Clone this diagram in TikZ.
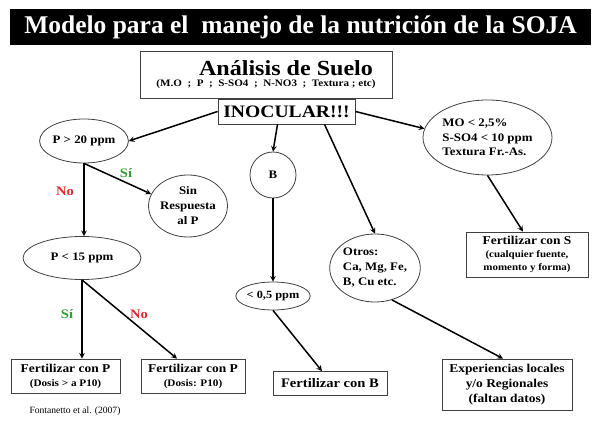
\documentclass[tikz,border=0pt]{standalone}
\usepackage{fontspec}
\setmainfont{Liberation Serif}
\newfontfamily\antiqua{Liberation Serif}[FakeStretch=1.12]
\usetikzlibrary{shapes.geometric}
\definecolor{noRed}{HTML}{E3262B}
\definecolor{siGreen}{HTML}{2F9A36}
\newcommand{\fs}[2]{\fontsize{#1}{#2}\selectfont}

\begin{document}
\begin{tikzpicture}[x=1pt,y=-1pt,>=stealth,
  caja/.style={draw=black!75,line width=0.8pt,fill=white,inner sep=0pt,align=center},
  elip/.style={ellipse,draw=black!75,line width=0.8pt,inner sep=0pt,align=center},
  flecha/.style={->,line width=1.5pt},
  rotulo/.style={font=\antiqua\bfseries\fs{13}{15}}]
\useasboundingbox (0,0) rectangle (600,430);
% titulo
\fill[black] (10,9) rectangle (591,45);
\node[text=white,font=\bfseries\fs{25.5}{28}] (titulo) at (300.5,27.5) {Modelo para el\ \ manejo de la nutrición de la SOJA};
% analisis e inoculacion
\node[caja,minimum width=252pt,minimum height=47pt,font=\antiqua\bfseries] (analisis) at (266,74.5)
  {\fs{21.5}{24}\hspace*{40pt}Análisis de Suelo\\[-1pt]
   \fs{9.9}{11}(M.O\ \ ;\ \ P\ \ ;\ \ S-SO4\ \ ;\ \ N-NO3\ \ ;\ \ Textura ; etc)};
\node[caja,minimum width=137pt,minimum height=25pt,font=\antiqua\bfseries\fs{17.5}{19}] (inocular) at (286.5,111.5) {INOCULAR!!!};
% rama P
\node[elip,minimum width=88pt,minimum height=44pt,font=\antiqua\bfseries\fs{11.5}{14}] (p20) at (84,141) {P > 20 ppm};
\node[elip,minimum width=68pt,minimum height=62pt,font=\antiqua\bfseries\fs{11.5}{15}] (sinresp) at (188,206) {Sin\\Respuesta\\al P};
\node[elip,minimum width=118pt,minimum height=43pt,font=\antiqua\bfseries\fs{11.5}{14}] (p15) at (82,258) {P < 15 ppm};
\node[caja,minimum width=109pt,minimum height=34pt,font=\antiqua\bfseries\fs{12}{14}] (fertP1) at (65.5,376)
  {Fertilizar con P\\\fs{10}{12}(Dosis > a P10)};
\node[caja,minimum width=104pt,minimum height=34pt,font=\antiqua\bfseries\fs{12}{14}] (fertP2) at (193,376)
  {Fertilizar con P\\\fs{10}{12}(Dosis: P10)};
% rama B
\node[elip,minimum width=46pt,minimum height=46pt,font=\antiqua\bfseries\fs{11.5}{14}] (boro) at (273,175) {B};
\node[elip,minimum width=64pt,minimum height=28pt,font=\antiqua\bfseries\fs{11}{13}] (menor) at (273,296) {< 0,5 ppm};
\node[caja,minimum width=114pt,minimum height=24pt,font=\antiqua\bfseries\fs{13}{15}] (fertB) at (330,383.5) {Fertilizar con B};
% otros
\node[elip,minimum width=84pt,minimum height=68pt,font=\antiqua\bfseries\fs{11.5}{15},align=left] (otros) at (375,268)
  {Otros:\\Ca, Mg, Fe,\\B, Cu etc.};
\node[caja,minimum width=130pt,minimum height=51pt,font=\antiqua\bfseries\fs{12}{15}] (exper) at (507,384.5)
  {Experiencias locales\\y/o Regionales\\(faltan datos)};
% rama S
\node[elip,minimum width=129pt,minimum height=75pt,font=\antiqua\bfseries\fs{11.5}{14.5},align=left] (mo) at (487.5,137.5)
  {MO < 2,5\%\\S-SO4 < 10 ppm\\Textura Fr.-As.};
\node[caja,minimum width=122pt,minimum height=45pt,font=\antiqua\bfseries\fs{12}{13}] (fertS) at (527,254.5)
  {Fertilizar con S\\\fs{9.8}{12}(cualquier fuente,\\\fs{9.8}{12}momento y forma)};
% cita
\node[font=\fs{9.6}{11}] (fuente) at (75,411) {Fontanetto et al. (2007)};
% flechas
\draw[flecha] (inocular.west) -- (p20.east);
\draw[flecha] ([xshift=-9pt]inocular.south) -- (boro.north);
\draw[flecha] ([xshift=38pt]inocular.south) -- (otros.north);
\draw[flecha] (inocular.east) -- (mo.172);
\draw[flecha] (mo.south) -- ([xshift=-4pt]fertS.north);
\draw[flecha] (p20.south) -- (p20.south |- p15.north);
\draw[flecha] (p20.south) -- (sinresp.162);
\draw[flecha] (p15.south) -- (p15.south |- fertP1.north);
\draw[flecha] (p15.south) -- ([xshift=-16pt]fertP2.north);
\draw[flecha] (boro.south) -- (boro.south |- menor.north);
\draw[flecha] (menor.south) -- ([xshift=-8pt]fertB.north);
\draw[flecha] (otros.-62) -- ([xshift=-4pt]exper.north);
% si / no
\node[rotulo,text=noRed] (no1) at (65,191) {No};
\node[rotulo,text=siGreen] (si1) at (126,173) {Sí};
\node[rotulo,text=siGreen] (si2) at (67,314) {Sí};
\node[rotulo,text=noRed] (no2) at (139,314) {No};
\end{tikzpicture}
\end{document}
